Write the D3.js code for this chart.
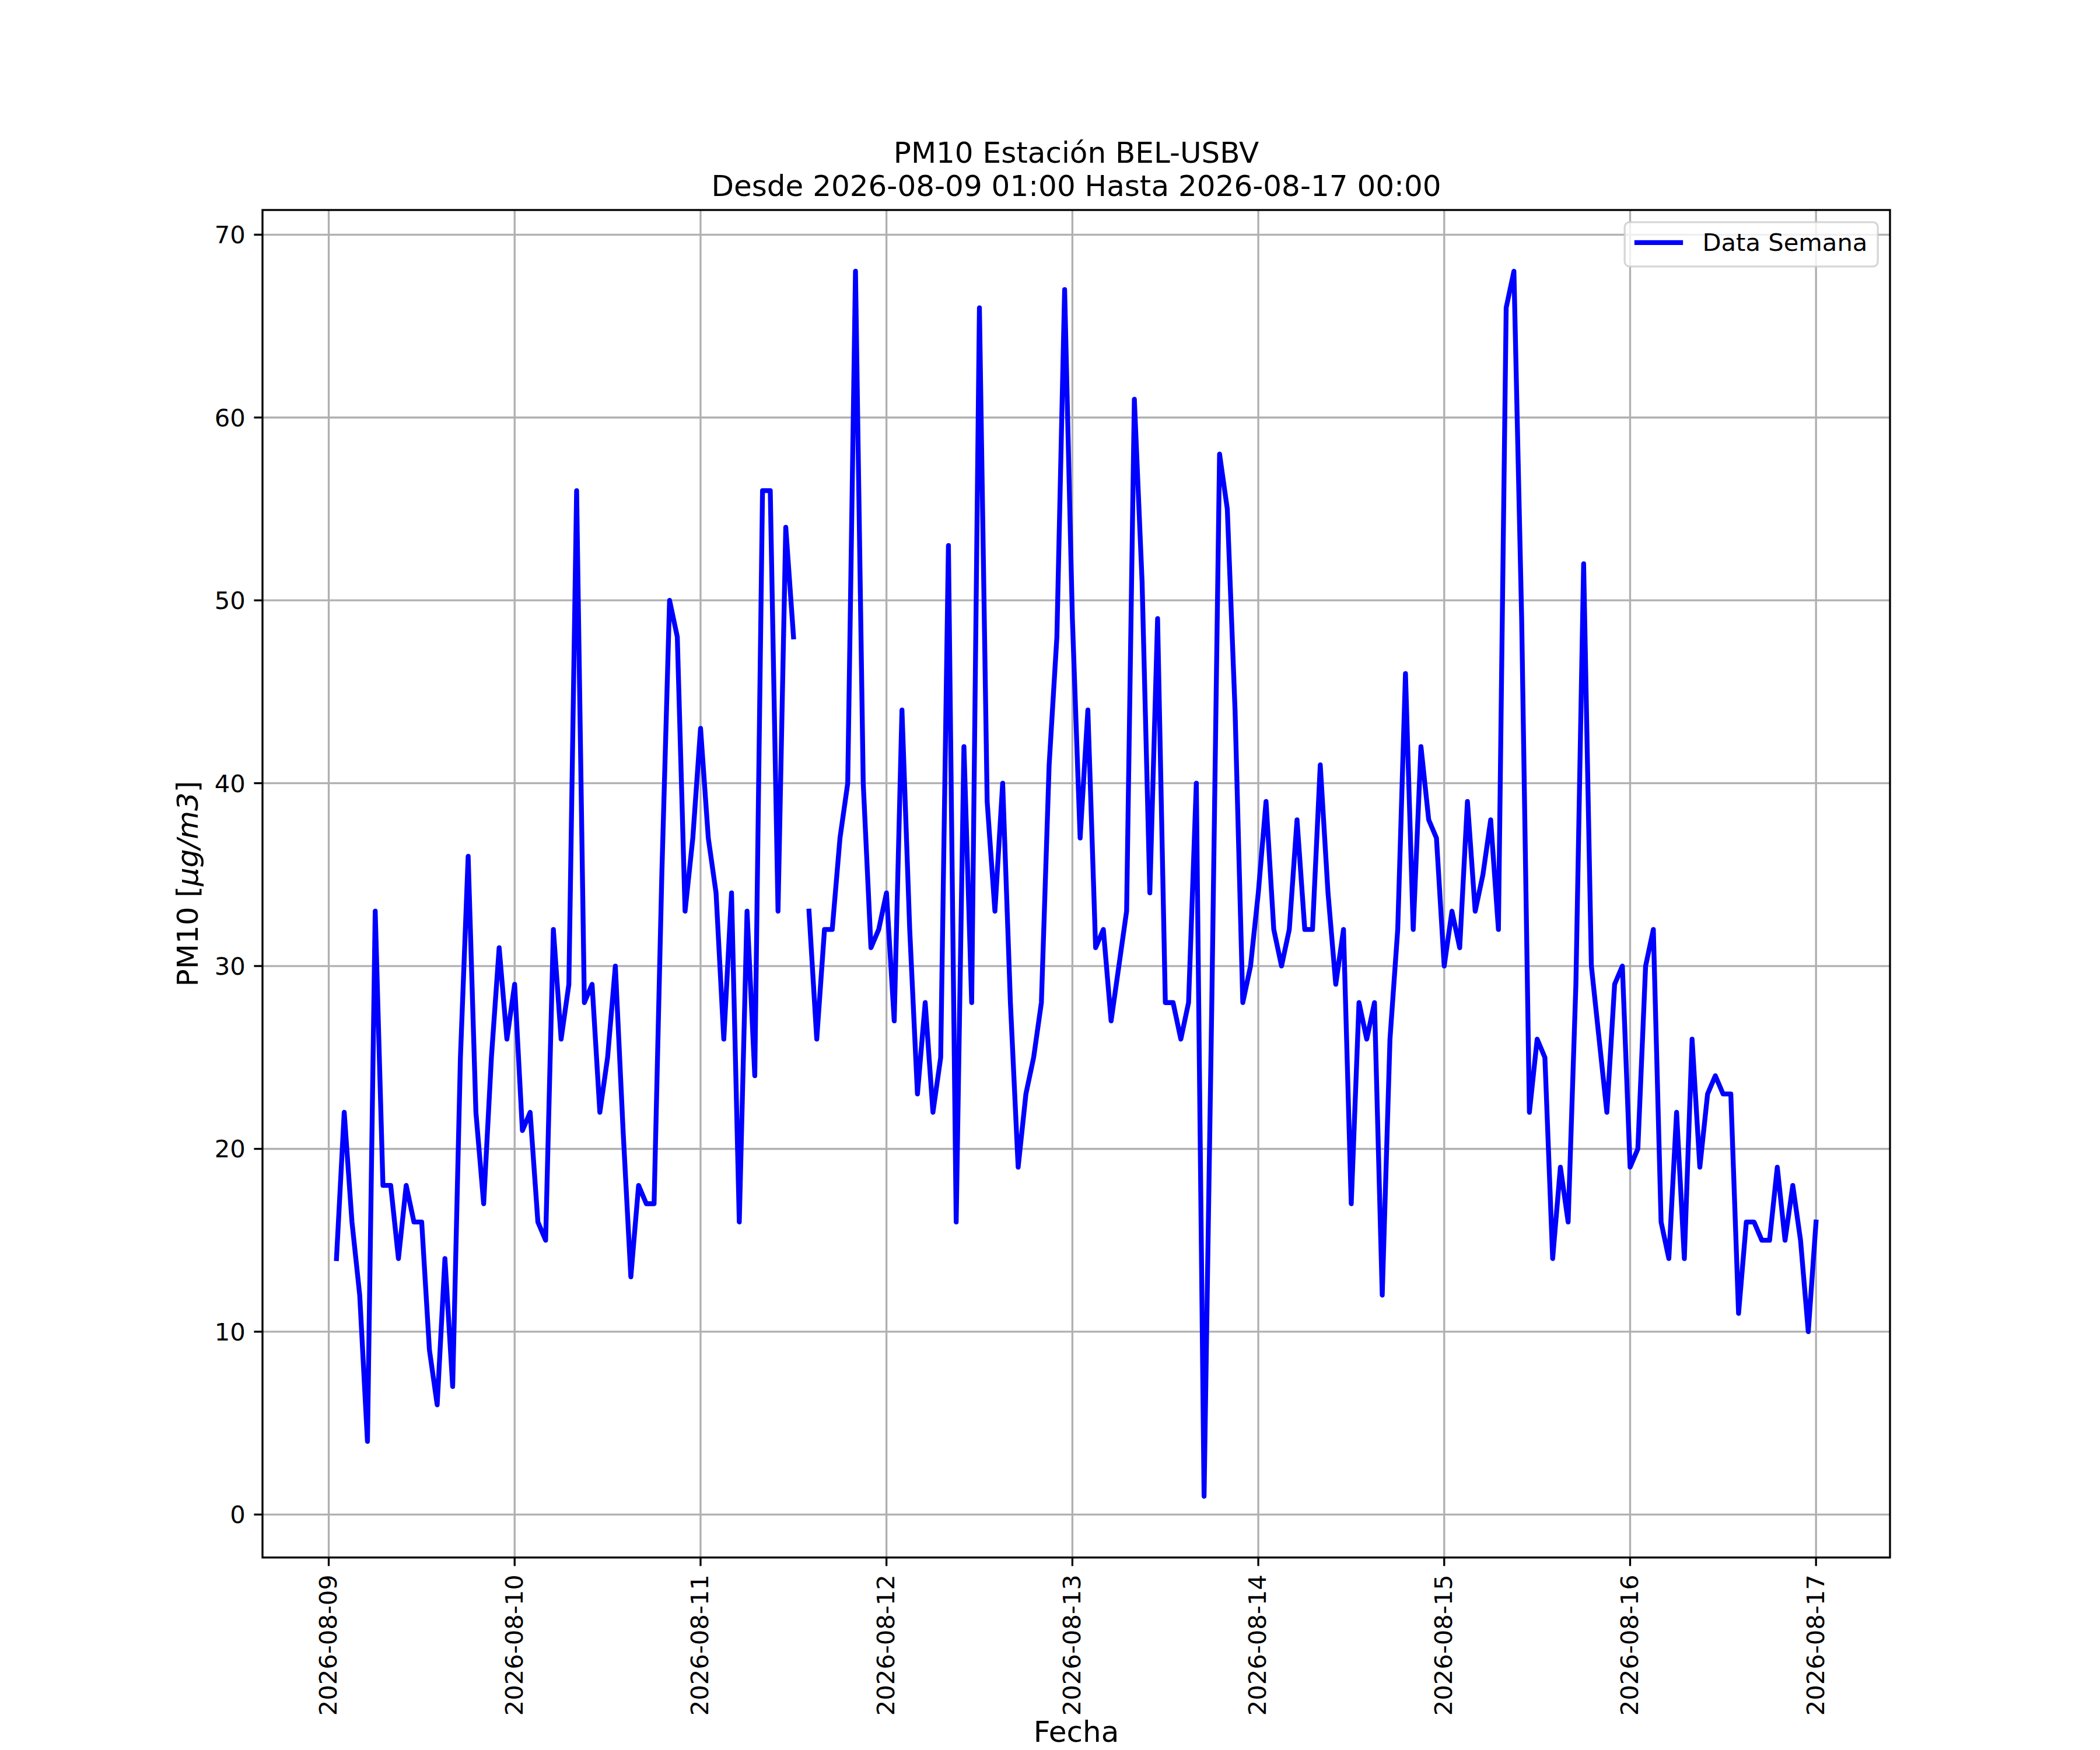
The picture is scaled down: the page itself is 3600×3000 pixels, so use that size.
<!DOCTYPE html>
<html>
<head>
<meta charset="utf-8">
<script src="https://cdn.jsdelivr.net/npm/d3@7"></script>
<style>
  body { margin: 0; background: #fff; }
  svg { display: block; font-family: 'DejaVu Sans', sans-serif; }
</style>
</head>
<body>
<svg id="chart" width="3600" height="3000"></svg>
<script>
// hourly PM10 readings, one array per day (01:00 .. 00:00 of next day)
const startHour = Date.UTC(2026, 7, 9, 1)
const day09 = [14, 22, 16, 12, 4, 33, 18, 18, 14, 18, 16, 16, 9, 6, 14, 7, 25, 36, 22, 17, 25, 31, 26, 29]
const day10 = [21, 22, 16, 15, 32, 26, 29, 56, 28, 29, 22, 25, 30, 21, 13, 18, 17, 17, 35, 50, 48, 33, 37, 43]
const day11 = [37, 34, 26, 34, 16, 33, 24, 56, 56, 33, 54, 48, null, 33, 26, 32, 32, 37, 40, 68, 40, 31, 32, 34]
const day12 = [27, 44, 32, 23, 28, 22, 25, 53, 16, 42, 28, 66, 39, 33, 40, 28, 19, 23, 25, 28, 41, 48, 67, 49]
const day13 = [37, 44, 31, 32, 27, 30, 33, 61, 51, 34, 49, 28, 28, 26, 28, 40, 1, 28, 58, 55, 44, 28, 30, 34]
const day14 = [39, 32, 30, 32, 38, 32, 32, 41, 34, 29, 32, 17, 28, 26, 28, 12, 26, 32, 46, 32, 42, 38, 37, 30]
const day15 = [33, 31, 39, 33, 35, 38, 32, 66, 68, 49, 22, 26, 25, 14, 19, 16, 29, 52, 30, 26, 22, 29, 30, 19]
const day16 = [20, 30, 32, 16, 14, 22, 14, 26, 19, 23, 24, 23, 23, 11, 16, 16, 15, 15, 19, 15, 18, 15, 10, 16]

const yTicks = [0, 10, 20, 30, 40, 50, 60, 70]
const titleLines = ['PM10 Estación BEL-USBV', 'Desde 2026-08-09 01:00 Hasta 2026-08-17 00:00']
const seriesLabel = 'Data Semana'

const HOUR = 3600 * 1000
const data = [day09, day10, day11, day12, day13, day14, day15, day16]
  .flat()
  .map((v, i) => ({ t: new Date(startHour + i * HOUR), v: v }))

// figure layout (matplotlib-like, 300 dpi)
const pt = 300 / 72
const margin = { left: 450, right: 3240, top: 360, bottom: 2670 }
const fs = 10 * pt
const fsBig = 12 * pt
const tickLen = 3.5 * pt
const tickPad = 3.5 * pt
const thin = 0.8 * pt
const lineW = 2 * pt

const svg = d3.select('#chart')

const tExtent = d3.extent(data, (d) => d.t)
const tPad = (tExtent[1] - tExtent[0]) * 0.05
const x = d3
  .scaleUtc()
  .domain([new Date(+tExtent[0] - tPad), new Date(+tExtent[1] + tPad)])
  .range([margin.left, margin.right])

const vals = data.filter((d) => d.v != null).map((d) => d.v)
const vMin = d3.min(vals)
const vMax = d3.max(vals)
const vPad = (vMax - vMin) * 0.05
const y = d3
  .scaleLinear()
  .domain([vMin - vPad, vMax + vPad])
  .range([margin.bottom, margin.top])

const dayTicks = d3.utcDay.range(d3.utcDay.ceil(x.domain()[0]), x.domain()[1])

// grid
const grid = svg.append('g').attr('stroke', '#b0b0b0').attr('stroke-width', thin)
grid
  .selectAll('line.gx')
  .data(dayTicks)
  .join('line')
  .attr('x1', (d) => x(d))
  .attr('x2', (d) => x(d))
  .attr('y1', margin.top)
  .attr('y2', margin.bottom)
grid
  .selectAll('line.gy')
  .data(yTicks)
  .join('line')
  .attr('x1', margin.left)
  .attr('x2', margin.right)
  .attr('y1', (d) => y(d))
  .attr('y2', (d) => y(d))

// data line
const line = d3
  .line()
  .defined((d) => d.v != null)
  .x((d) => x(d.t))
  .y((d) => y(d.v))

svg
  .append('path')
  .datum(data)
  .attr('fill', 'none')
  .attr('stroke', '#0000ff')
  .attr('stroke-width', lineW)
  .attr('stroke-linejoin', 'round')
  .attr('stroke-linecap', 'square')
  .attr('d', line)

// spines
svg
  .append('rect')
  .attr('x', margin.left)
  .attr('y', margin.top)
  .attr('width', margin.right - margin.left)
  .attr('height', margin.bottom - margin.top)
  .attr('fill', 'none')
  .attr('stroke', '#000')
  .attr('stroke-width', thin)

// x axis
const xAxis = svg.append('g')
xAxis
  .selectAll('line')
  .data(dayTicks)
  .join('line')
  .attr('x1', (d) => x(d))
  .attr('x2', (d) => x(d))
  .attr('y1', margin.bottom)
  .attr('y2', margin.bottom + tickLen)
  .attr('stroke', '#000')
  .attr('stroke-width', thin)
const fmt = d3.utcFormat('%Y-%m-%d')
xAxis
  .selectAll('text')
  .data(dayTicks)
  .join('text')
  .attr('transform', (d) => `translate(${x(d)},${margin.bottom + tickLen + tickPad}) rotate(-90)`)
  .attr('text-anchor', 'end')
  .attr('dy', '0.32em')
  .attr('font-size', fs)
  .text((d) => fmt(d))

// y axis
const yAxis = svg.append('g')
yAxis
  .selectAll('line')
  .data(yTicks)
  .join('line')
  .attr('x1', margin.left - tickLen)
  .attr('x2', margin.left)
  .attr('y1', (d) => y(d))
  .attr('y2', (d) => y(d))
  .attr('stroke', '#000')
  .attr('stroke-width', thin)
yAxis
  .selectAll('text')
  .data(yTicks)
  .join('text')
  .attr('x', margin.left - tickLen - tickPad)
  .attr('y', (d) => y(d))
  .attr('dy', '0.36em')
  .attr('text-anchor', 'end')
  .attr('font-size', fs)
  .text((d) => d)

// axis labels
svg
  .append('text')
  .attr('x', (margin.left + margin.right) / 2)
  .attr('y', 2986)
  .attr('text-anchor', 'middle')
  .attr('font-size', fsBig)
  .text('Fecha')

const yl = svg
  .append('text')
  .attr('transform', `translate(339,${(margin.top + margin.bottom) / 2}) rotate(-90)`)
  .attr('text-anchor', 'middle')
  .attr('font-size', fsBig)
yl.append('tspan').text('PM10 [')
yl.append('tspan').attr('font-style', 'italic').text('μg/m3')
yl.append('tspan').text(']')

// title
svg
  .append('g')
  .selectAll('text')
  .data(titleLines)
  .join('text')
  .attr('x', (margin.left + margin.right) / 2)
  .attr('y', (d, i) => 279 + i * 57)
  .attr('text-anchor', 'middle')
  .attr('font-size', fsBig)
  .text((d) => d)

// legend
const lg = svg.append('g')
const lgRight = margin.right - 0.5 * fs
const lgTop = margin.top + 0.5 * fs
const lgW = 434
const lgH = 76
lg.append('rect')
  .attr('x', lgRight - lgW)
  .attr('y', lgTop)
  .attr('width', lgW)
  .attr('height', lgH)
  .attr('rx', 0.2 * fs)
  .attr('fill', '#fff')
  .attr('fill-opacity', 0.8)
  .attr('stroke', '#cccccc')
  .attr('stroke-opacity', 0.8)
  .attr('stroke-width', thin)
const hx0 = lgRight - lgW + 0.4 * fs
lg.append('line')
  .attr('x1', hx0)
  .attr('x2', hx0 + 2 * fs)
  .attr('y1', lgTop + 35)
  .attr('y2', lgTop + 35)
  .attr('stroke', '#0000ff')
  .attr('stroke-width', lineW)
lg.append('text')
  .attr('x', hx0 + 2.8 * fs)
  .attr('y', lgTop + 49)
  .attr('font-size', fs)
  .text(seriesLabel)
</script>
</body>
</html>
